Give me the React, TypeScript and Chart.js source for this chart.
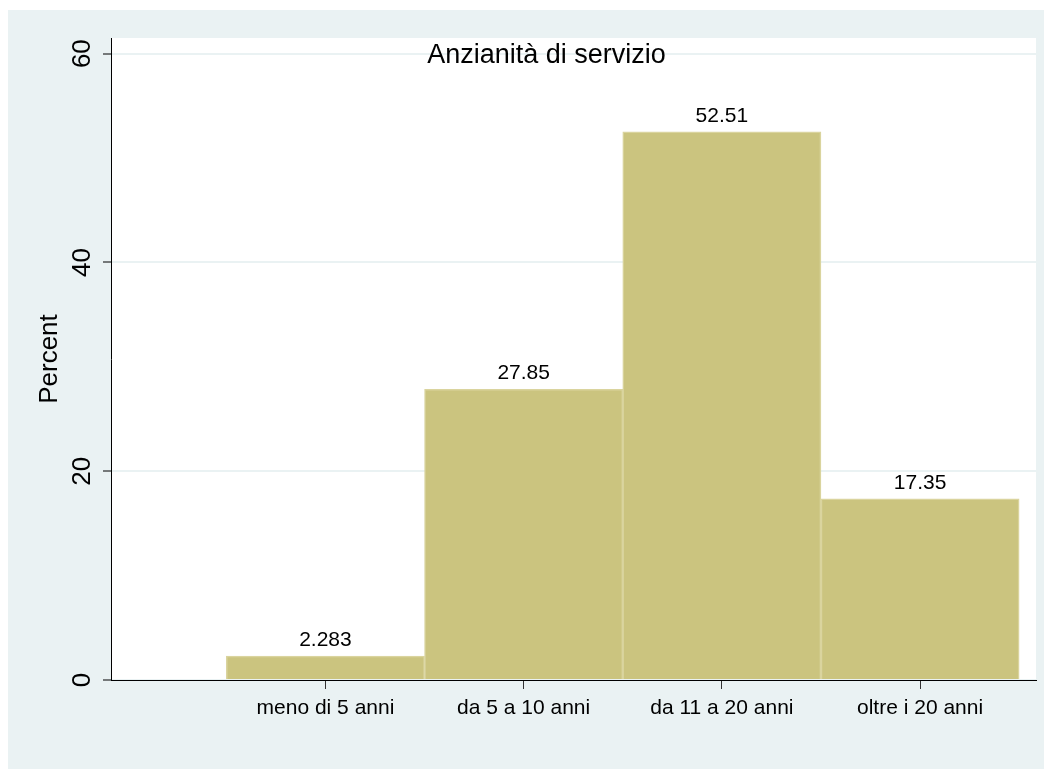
import React, { useEffect, useRef } from "react";
import { Chart, registerables } from "chart.js";

Chart.register(...registerables);

const categories = ["meno di 5 anni", "da 5 a 10 anni", "da 11 a 20 anni", "oltre i 20 anni"];
const positions = [1, 2, 3, 4];
const percents = [2.283, 27.85, 52.51, 17.35];
const yTicks = [0, 20, 40, 60];
const titleText = "Anzianità di servizio";
const yTitle = "Percent";

const FONT = "'Liberation Sans', Arial, Helvetica, sans-serif";
const BG = "#EAF2F3";
const BAR = "rgb(203,196,127)";
const BAR_EDGE = "rgb(218,212,158)";

const areaPlugin = {
  id: "areaBg",
  beforeDraw(chart: any) {
    const { ctx, chartArea: a } = chart;
    ctx.save();
    ctx.fillStyle = "#FFFFFF";
    ctx.fillRect(a.left, a.top, a.right - a.left, a.bottom - a.top);
    ctx.restore();
  },
};

const overlayPlugin = {
  id: "overlay",
  afterDatasetsDraw(chart: any) {
    const ctx = chart.ctx;
    const meta = chart.getDatasetMeta(0);
    ctx.save();
    ctx.fillStyle = "#000";
    ctx.font = `21px ${FONT}`;
    ctx.textAlign = "center";
    ctx.textBaseline = "alphabetic";
    meta.data.forEach((el: any, i: number) => {
      const label = Number(percents[i].toPrecision(4)).toString();
      ctx.fillText(label, el.x, el.y - 10);
    });
    ctx.font = `27px ${FONT}`;
    const area = chart.chartArea;
    ctx.fillText(titleText, (area.left + area.right) / 2 - 27, area.top + 25);
    ctx.restore();
  },
};

export default function App() {
  const ref = useRef<HTMLCanvasElement>(null);
  useEffect(() => {
    if (!ref.current) return;
    const chart = new Chart(ref.current, {
      type: "bar",
      data: {
        datasets: [
          {
            data: positions.map((x, i) => ({ x, y: percents[i] })),
            backgroundColor: BAR,
            borderColor: BAR_EDGE,
            borderWidth: 1.5,
            barPercentage: 1,
            categoryPercentage: 1,
          },
        ],
      },
      options: {
        responsive: false,
        animation: false,
        layout: { padding: { top: 28, right: 16, bottom: 0, left: 0 } },
        plugins: {
          legend: { display: false },
          tooltip: { enabled: false },
          title: { display: false },
        },
        scales: {
          x: {
            type: "linear",
            offset: false,
            min: -0.082,
            max: 4.585,
            afterBuildTicks: (s: any) => {
              s.ticks = positions.map((v) => ({ value: v }));
            },
            afterFit: (s: any) => {
              s.height = 91;
            },
            ticks: {
              color: "#000",
              font: { family: FONT, size: 21 },
              padding: 7,
              maxRotation: 0,
              minRotation: 0,
              autoSkip: false,
              callback: (v: any) => {
                const i = positions.indexOf(Number(v));
                return i >= 0 ? categories[i] : "";
              },
            },
            grid: {
              offset: false,
              drawOnChartArea: false,
              drawTicks: true,
              tickLength: 9,
              tickColor: "#333",
              tickWidth: 1,
            },
            border: { color: "#000", width: 1 },
          },
          y: {
            type: "linear",
            min: 0,
            max: 61.5,
            afterBuildTicks: (s: any) => {
              s.ticks = yTicks.map((v) => ({ value: v }));
            },
            afterFit: (s: any) => {
              s.width = 104;
            },
            ticks: {
              color: "#000",
              font: { family: FONT, size: 26 },
              padding: 6,
              minRotation: 90,
              maxRotation: 90,
              crossAlign: "center",
            },
            grid: {
              color: BG,
              lineWidth: 2,
              drawTicks: true,
              tickLength: 8,
              tickColor: "#000",
              tickWidth: 1,
            },
            border: { color: "#000", width: 1 },
            title: {
              display: true,
              text: yTitle,
              color: "#000",
              font: { family: FONT, size: 26 },
              padding: { top: 27, bottom: 0 },
            },
          },
        },
      },
      plugins: [areaPlugin, overlayPlugin],
    } as any);
    return () => chart.destroy();
  }, []);

  return (
    <div
      style={{
        position: "relative",
        left: -1,
        top: 2,
        width: 1045,
        height: 761,
        background: BG,
      }}
    >
      <canvas ref={ref} width={1045} height={761} style={{ display: "block" }} />
    </div>
  );
}
